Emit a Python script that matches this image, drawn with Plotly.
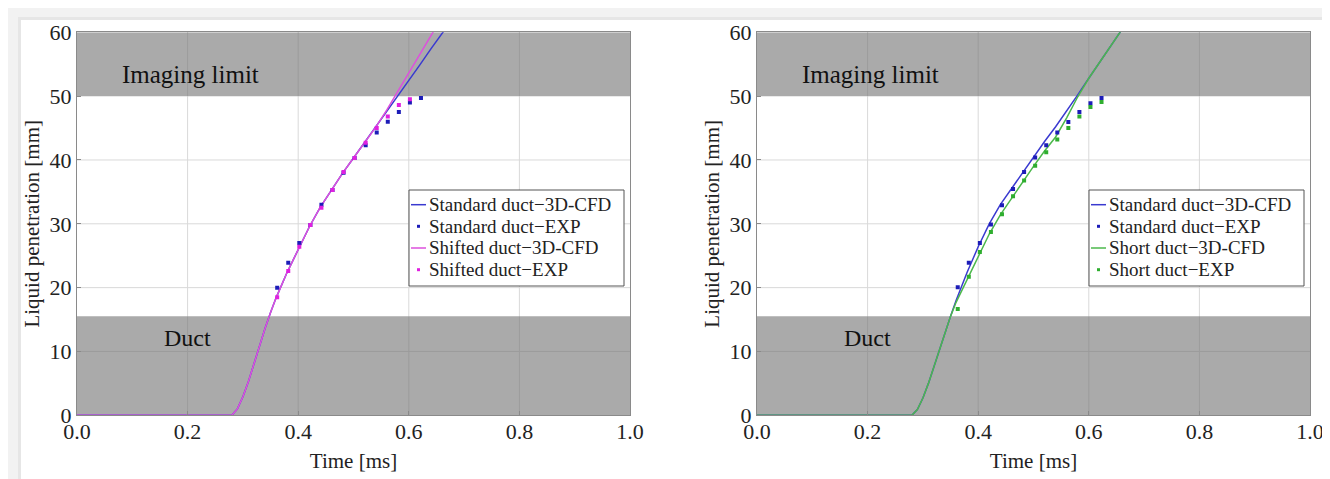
import plotly.graph_objects as go

# ---------------- data ----------------
t_cfd = [0.00, 0.28, 0.29, 0.30, 0.31, 0.32, 0.33, 0.34, 0.35, 0.36, 0.38, 0.40, 0.42,
         0.44, 0.46, 0.48, 0.50, 0.52, 0.54, 0.56, 0.58, 0.60, 0.62, 0.64, 0.66, 0.68]

# left panel
std_cfd_L = [0, 0, 1.0, 2.9, 5.3, 8.1, 10.9, 13.6, 16.1, 18.4, 22.4, 26.0, 29.5,
             32.6, 35.3, 37.9, 40.3, 42.7, 45.1, 47.5, 50.0, 52.5, 54.9, 57.4, 59.8, 62.2]
shift_cfd_L = [0, 0, 1.0, 2.9, 5.3, 8.1, 10.9, 13.6, 16.1, 18.4, 22.4, 26.0, 29.5,
               32.6, 35.3, 37.9, 40.3, 42.7, 45.1, 47.8, 50.7, 53.6, 56.6, 59.5, 62.4, 65.3]

t_exp_std_L = [0.362, 0.382, 0.402, 0.422, 0.442, 0.462, 0.482, 0.502, 0.522, 0.542,
               0.562, 0.582, 0.602, 0.622]
std_exp_L = [20.0, 23.9, 27.0, 29.8, 33.0, 35.3, 38.0, 40.3, 42.3, 44.3, 46.0, 47.5, 49.0, 49.7]
t_exp_shift_L = [0.362, 0.382, 0.402, 0.422, 0.442, 0.462, 0.482, 0.502, 0.522, 0.542,
                 0.562, 0.582, 0.602]
shift_exp_L = [18.5, 22.6, 26.4, 29.8, 32.5, 35.3, 38.1, 40.3, 42.7, 45.0, 46.8, 48.6, 49.5]

# right panel
std_cfd_R = [0, 0, 0.9, 2.7, 5.0, 7.7, 10.4, 13.0, 15.5, 18.0, 22.4, 26.4, 30.0,
             33.0, 35.5, 38.1, 40.5, 42.9, 45.2, 47.6, 50.2, 52.8, 55.4, 57.9, 60.5, 63.0]
short_cfd_R = [0, 0, 0.9, 2.7, 5.0, 7.7, 10.4, 13.0, 15.5, 17.7, 21.3, 25.0, 28.4,
               31.4, 34.0, 36.6, 39.0, 41.4, 43.6, 46.6, 49.9, 52.8, 55.4, 57.9, 60.5, 63.0]

t_exp_R = [0.363, 0.383, 0.403, 0.423, 0.443, 0.463, 0.483, 0.503, 0.523, 0.543,
           0.563, 0.583, 0.603, 0.623]
std_exp_R = [20.05, 23.9, 27.0, 29.9, 32.9, 35.45, 38.1, 40.4, 42.3, 44.3, 45.95, 47.5, 48.9, 49.7]
short_exp_R = [16.65, 21.7, 25.6, 28.7, 31.5, 34.3, 36.8, 39.1, 41.2, 43.2, 45.0, 46.8, 48.3, 49.1]

x_ticks = [0.0, 0.2, 0.4, 0.6, 0.8, 1.0]
y_ticks = [0, 10, 20, 30, 40, 50, 60]
duct_band = [0, 15.5]
imaging_band = [50, 60]
band_labels = ["Imaging limit", "Duct"]
legend_L = ["Standard duct\u22123D-CFD", "Standard duct\u2212EXP",
            "Shifted duct\u22123D-CFD", "Shifted duct\u2212EXP"]
legend_R = ["Standard duct\u22123D-CFD", "Standard duct\u2212EXP",
            "Short duct\u22123D-CFD", "Short duct\u2212EXP"]

# ---------------- styles ----------------
BLUE_L = "#3a3ad0"
BLUE_D = "#1c1cb8"
MAG_L = "#dd50dd"
MAG_D = "#e020e0"
GRN_L = "#4cb84c"
GRN_D = "#2fae2f"
FONT = "Liberation Serif"
BAND = "#aaaaaa"
GRID_W = "#d9d9d9"
GRID_B = "#9c9c9c"

W, H = 1330, 479
fig = go.Figure()


def line(x, y, color, xa, ya):
    fig.add_trace(go.Scatter(x=x, y=y, mode="lines", xaxis=xa, yaxis=ya,
                             line=dict(color=color, width=1.5), showlegend=False,
                             hoverinfo="skip"))


def dots(x, y, color, xa, ya):
    fig.add_trace(go.Scatter(x=x, y=y, mode="markers", xaxis=xa, yaxis=ya,
                             marker=dict(color=color, size=4, symbol="square",
                                         line=dict(width=0)),
                             showlegend=False, hoverinfo="skip"))


line(t_cfd, std_cfd_L, BLUE_L, "x", "y")
line(t_cfd, shift_cfd_L, MAG_L, "x", "y")
dots(t_exp_std_L, std_exp_L, BLUE_D, "x", "y")
dots(t_exp_shift_L, shift_exp_L, MAG_D, "x", "y")

line(t_cfd, std_cfd_R, BLUE_L, "x2", "y2")
line(t_cfd, short_cfd_R, GRN_L, "x2", "y2")
dots(t_exp_R, std_exp_R, BLUE_D, "x2", "y2")
dots(t_exp_R, short_exp_R, GRN_D, "x2", "y2")

# plot geometry (pixels)
yd = [1 - 407.3 / H, 1 - 24.3 / H]
xd1 = [69 / W, 622 / W]
xd2 = [749 / W, 1302 / W]

axis_common = dict(
    showgrid=False,
    showline=True, linecolor="#8a8a8a", linewidth=1, mirror=True,
    ticks="inside", ticklen=4, tickcolor="#8a8a8a",
    tickfont=dict(family=FONT, size=22, color="#222"),
    zeroline=False, automargin=False,
)
xtitle = dict(text="Time [ms]", font=dict(family=FONT, size=21, color="#222"), standoff=10)
ytitle = dict(text="Liquid penetration [mm]", font=dict(family=FONT, size=21, color="#222"),
              standoff=4)

fig.update_layout(
    width=W, height=H,
    margin=dict(l=0, r=0, t=0, b=0),
    paper_bgcolor="#f2f2f2", plot_bgcolor="white",
    showlegend=False,
    xaxis=dict(domain=xd1, range=[0, 1], tickvals=x_ticks, tickformat=".1f",
               anchor="y", ticklabelstandoff=-4, title=xtitle, **axis_common),
    yaxis=dict(domain=yd, range=[0, 60], tickvals=y_ticks, anchor="x",
               title=ytitle, **axis_common),
    xaxis2=dict(domain=xd2, range=[0, 1], tickvals=x_ticks, tickformat=".1f",
                anchor="y2", ticklabelstandoff=-4, title=xtitle, **axis_common),
    yaxis2=dict(domain=yd, range=[0, 60], tickvals=y_ticks, anchor="x2",
                title=ytitle, **axis_common),
)

shapes = []
# card + shadow
shapes.append(dict(type="rect", xref="paper", yref="paper", layer="below",
                   x0=10 / W, x1=1328 / W, y0=-0.05, y1=1 - 9 / H,
                   fillcolor="#e6e6e6", line=dict(width=0)))
shapes.append(dict(type="rect", xref="paper", yref="paper", layer="below",
                   x0=13 / W, x1=1325 / W, y0=-0.05, y1=1 - 12 / H,
                   fillcolor="white", line=dict(width=0)))

annotations = []
for xa, ya in [("x", "y"), ("x2", "y2")]:
    # grid lines in the white zone
    for xv in x_ticks[1:-1]:
        shapes.append(dict(type="line", xref=xa, yref=ya, layer="below",
                           x0=xv, x1=xv, y0=duct_band[1], y1=imaging_band[0],
                           line=dict(color=GRID_W, width=1)))
    for yv in y_ticks:
        if duct_band[1] < yv < imaging_band[0]:
            shapes.append(dict(type="line", xref=f"{xa} domain", yref=ya, layer="below",
                               x0=0, x1=1, y0=yv, y1=yv,
                               line=dict(color=GRID_W, width=1)))
    # grey bands
    for band in (imaging_band, duct_band):
        shapes.append(dict(type="rect", xref=f"{xa} domain", yref=ya, layer="below",
                           x0=0, x1=1, y0=band[0], y1=band[1],
                           fillcolor=BAND, line=dict(width=0)))
        for xv in x_ticks[1:-1]:
            shapes.append(dict(type="line", xref=xa, yref=ya, layer="below",
                               x0=xv, x1=xv, y0=band[0], y1=band[1],
                               line=dict(color=GRID_B, width=1)))
        for yv in y_ticks:
            if band[0] < yv < band[1]:
                shapes.append(dict(type="line", xref=f"{xa} domain", yref=ya, layer="below",
                                   x0=0, x1=1, y0=yv, y1=yv,
                                   line=dict(color=GRID_B, width=1)))
    annotations.append(dict(x=0.205, y=53.4, xref=xa, yref=ya, text=band_labels[0],
                            showarrow=False, font=dict(family=FONT, size=25, color="#111")))
    annotations.append(dict(x=0.2, y=12.1, xref=xa, yref=ya, text=band_labels[1],
                            showarrow=False, font=dict(family=FONT, size=24, color="#111")))

# custom legends
PW = 553.0
PH = 383.0


def dx(px):
    return (px - 69) / PW


def dy(py):
    return (407.3 - py) / PH


row_y = [196.7, 218.3, 240.0, 261.7]
for xa, ya, labels, c2l, c2d in [("x", "y", legend_L, MAG_L, MAG_D),
                                 ("x2", "y2", legend_R, GRN_L, GRN_D)]:
    xr, yr = f"{xa} domain", f"{ya} domain"
    shapes.append(dict(type="rect", xref=xr, yref=yr, layer="above",
                       x0=dx(401), x1=dx(616), y0=dy(278), y1=dy(182),
                       fillcolor="white", line=dict(color="#555", width=1)))
    cols = [BLUE_L, BLUE_D, c2l, c2d]
    for i, (lab, col) in enumerate(zip(labels, cols)):
        if i % 2 == 0:
            shapes.append(dict(type="line", xref=xr, yref=yr, layer="above",
                               x0=dx(403), x1=dx(418), y0=dy(row_y[i]), y1=dy(row_y[i]),
                               line=dict(color=col, width=1.5)))
        else:
            shapes.append(dict(type="rect", xref=xr, yref=yr, layer="above",
                               x0=dx(409), x1=dx(412),
                               y0=dy(row_y[i] + 1.5), y1=dy(row_y[i] - 1.5),
                               fillcolor=col, line=dict(width=0)))
        annotations.append(dict(x=dx(419), y=dy(row_y[i]), xref=xr, yref=yr,
                                xanchor="left", yanchor="middle", text=lab,
                                showarrow=False,
                                font=dict(family=FONT, size=19, color="#222")))

fig.update_layout(shapes=shapes, annotations=annotations)
fig.write_html("out.html")
